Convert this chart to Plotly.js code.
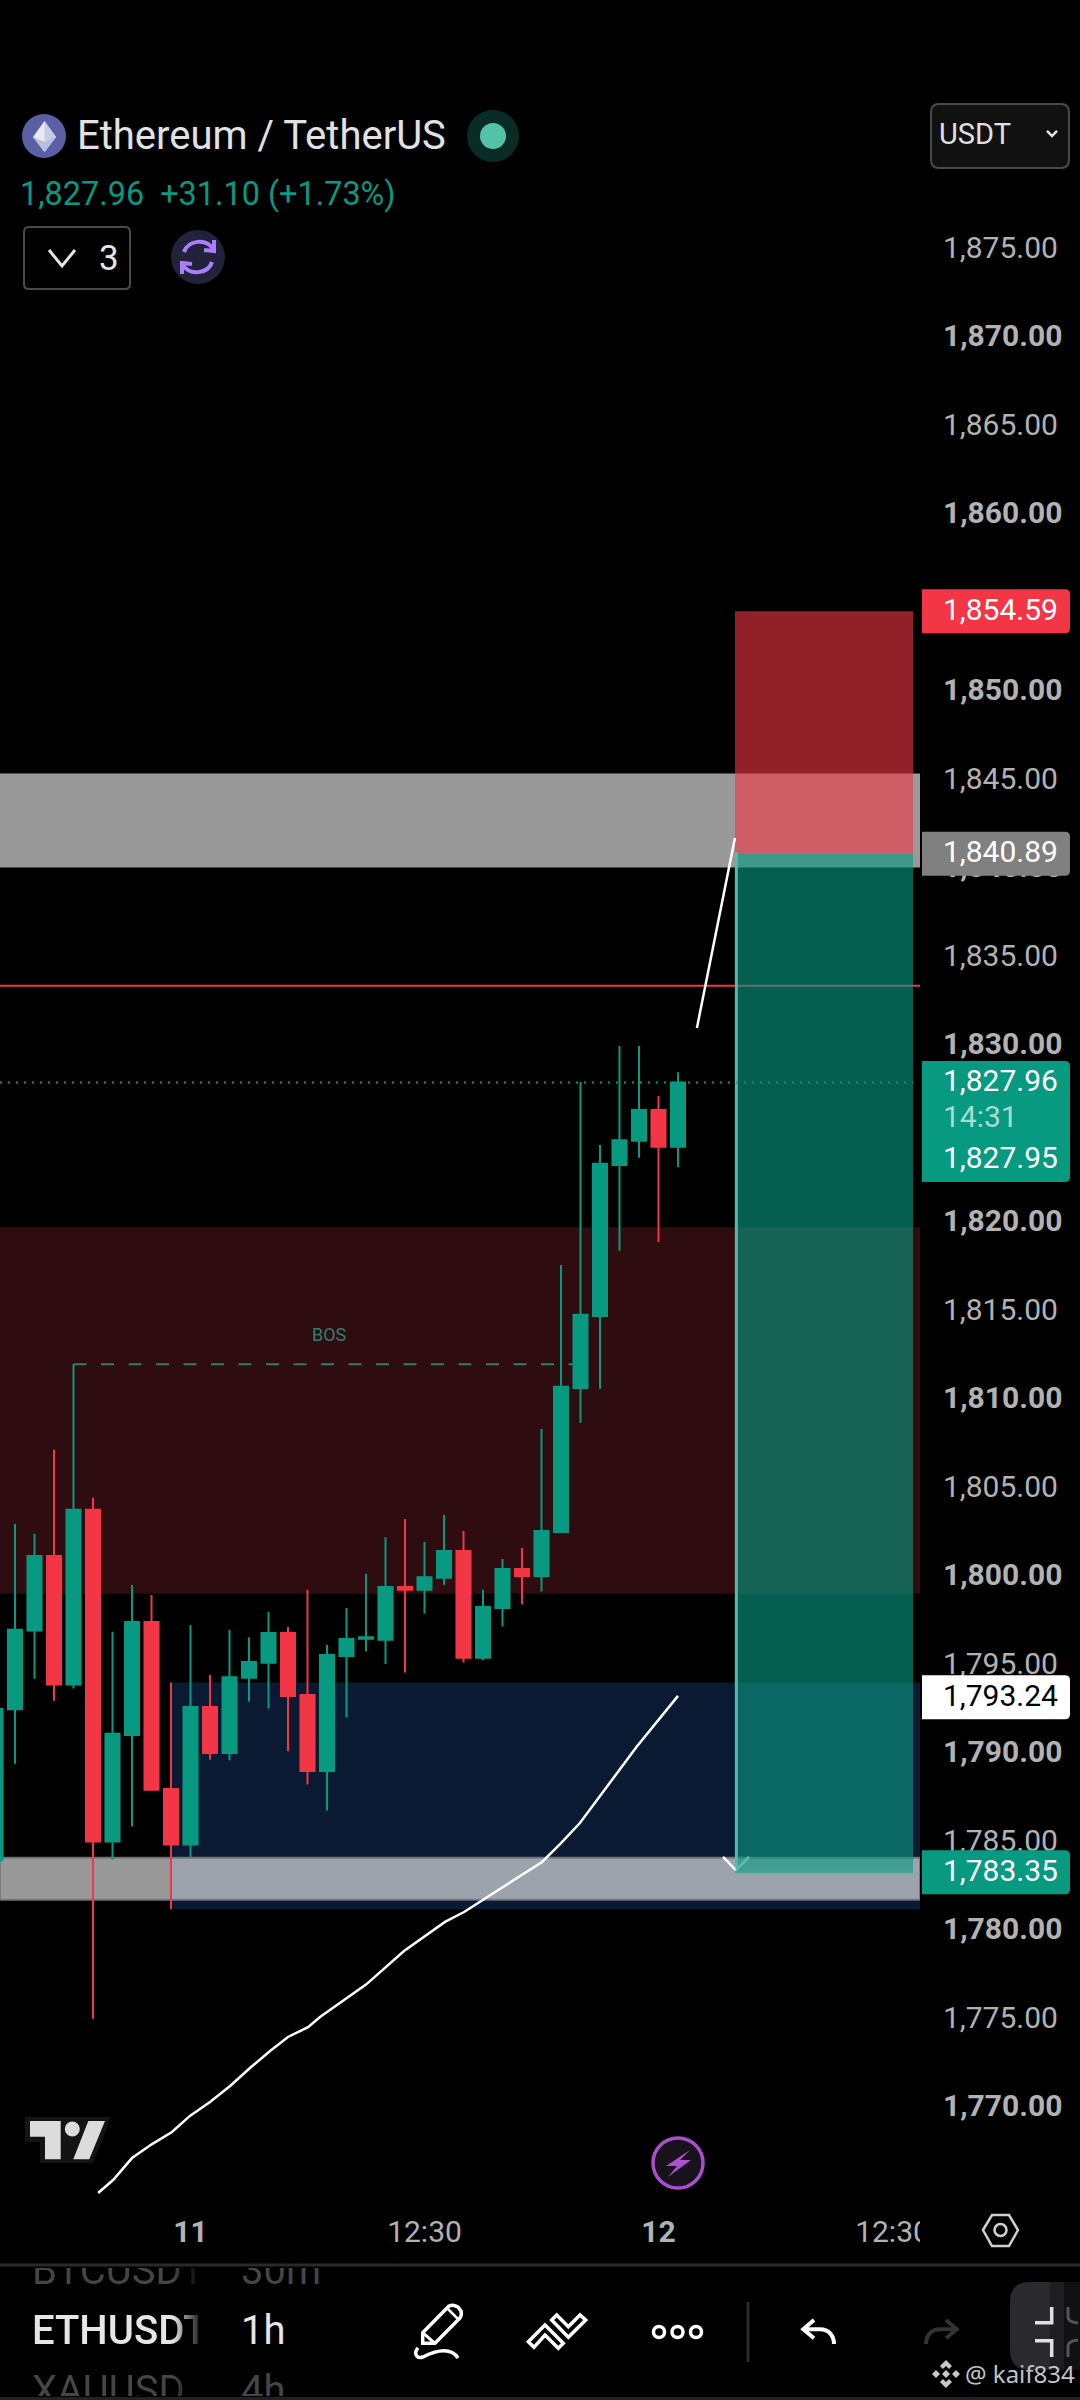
<!DOCTYPE html>
<html><head><meta charset="utf-8">
<script src="https://cdn.plot.ly/plotly-3.0.1.min.js"></script>
<style>
html,body{margin:0;padding:0;background:#000;width:1080px;height:2400px;overflow:hidden}
#chart{position:absolute;left:0;top:0;width:1080px;height:2400px}
#rows{position:absolute;left:0;top:2268px;width:330px;height:128px;overflow:hidden;font-family:Roboto,sans-serif;font-size:40px;line-height:40px}
#rows span{position:absolute;white-space:nowrap}
.sym{left:32px;width:166px;overflow:hidden;-webkit-mask-image:linear-gradient(to right,#000 85%,rgba(0,0,0,.2) 100%);mask-image:linear-gradient(to right,#000 85%,rgba(0,0,0,.2) 100%)}
.tf{left:241px}
.dim{color:#454545}.on{color:#e6e6e6;font-weight:500}
</style></head><body>
<div id="chart"></div>
<div id="rows">
<span class="sym dim" style="top:-17px">BTCUSDT</span><span class="tf dim" style="top:-17px">30m</span>
<span class="sym on" style="top:43px">ETHUSDT</span><span class="tf on" style="top:43px;font-weight:400">1h</span>
<span class="sym dim" style="top:103px">XAUUSD</span><span class="tf dim" style="top:103px">4h</span>
</div>
<script>
const bars   =[-1,0,1,2,3,4,5,6,7,8,9,10,11,12,13,14,15,16,17,18,19,20,21,22,23,24,25,26,27,28,29,30,31,32,33,34];
const opens  =[1784.02,1792.55,1797.00,1801.22,1793.96,1803.83,1785.08,1791.10,1797.49,1788.05,1784.92,1792.69,1790.08,1794.33,1795.18,1796.86,1793.36,1789.07,1795.57,1796.54,1796.49,1799.47,1799.31,1799.98,1801.50,1795.46,1798.27,1800.48,1800.09,1802.57,1810.70,1814.77,1823.30,1824.67,1826.41,1824.33];
const closes =[1792.57,1797.05,1801.22,1793.96,1803.83,1785.08,1791.17,1797.49,1788.01,1784.92,1792.69,1790.08,1794.37,1795.23,1796.86,1793.31,1789.07,1795.62,1796.52,1796.63,1799.47,1799.31,1800.02,1801.50,1795.46,1798.34,1800.48,1800.09,1802.63,1810.77,1814.84,1823.37,1824.71,1826.41,1824.33,1827.96];
const highs  =[1792.57,1803.02,1802.47,1807.22,1812.05,1804.50,1796.93,1799.58,1799.01,1794.07,1797.32,1794.49,1797.05,1796.63,1798.06,1797.21,1799.31,1796.19,1798.27,1800.21,1802.28,1803.30,1802.01,1803.53,1802.63,1799.31,1801.04,1801.66,1808.39,1817.65,1828.00,1824.44,1830.03,1830.03,1827.21,1828.55];
const lows   =[1784.02,1789.48,1794.28,1793.03,1793.73,1775.07,1784.06,1785.93,1788.01,1781.25,1784.16,1789.71,1789.67,1792.99,1792.60,1790.18,1788.31,1786.83,1792.09,1795.82,1795.11,1794.63,1797.97,1799.58,1795.20,1795.32,1797.23,1798.48,1799.21,1802.52,1808.74,1810.66,1818.46,1823.71,1818.95,1823.19];
const curveX =[4.26,5.03,6.0,7.03,8.05,8.97,10.0,11.03,12.05,13.08,14.0,15.03,15.64,18.0,19.95,22.05,23.03,27.03,27.95,28.97,31.88,34.0];
const curveY =[1765.23,1765.96,1767.20,1767.99,1768.67,1769.58,1770.37,1771.27,1772.29,1773.25,1774.04,1774.60,1775.17,1777.0,1778.9,1780.54,1781.1,1783.93,1784.94,1786.13,1790.44,1793.31];
const riseX  =[34.97,36.92];
const riseY  =[1831.05,1841.78];
const tickPrices=[1875,1870,1865,1860,1855,1850,1845,1840,1835,1830,1825,1820,1815,1810,1805,1800,1795,1790,1785,1780,1775,1770];
const timeTicks=[9,21,33,45];
const timeLabels=['<b>11</b>','12:30','<b>12</b>','12:30'];
const stopPrice=1854.59, entryPrice=1840.89, lastPrice=1827.96, bidPrice=1827.95, zonePrice=1793.24, targetPrice=1783.35, linePrice=1833.43;

const GREEN='#089981',RED='#f23645',TICK='#b2b2b2';
const W=1080,H=2400,PLOT_R=920,PLOT_B=2200;
const XMIN=-15/19.5,XMAX=905/19.5;
const YPX=p=>692.5+(1850-p)*17.7;
const YMAX=1850+692.5/17.7,YMIN=1850-(PLOT_B-692.5)/17.7;
const fx=x=>x/W,fy=y=>1-y/H;
const pth=s=>{let i=0;return s.replace(/-?\d+(\.\d+)?/g,m=>(i++%2===0)?fx(+m).toFixed(5):fy(+m).toFixed(5));};
const ln=(c,w)=>({color:c,width:w});
const P=(d,fill,stroke,w,layer)=>({type:'path',xref:'paper',yref:'paper',layer:layer||'above',path:pth(d),fillcolor:fill||'rgba(0,0,0,0)',line:stroke?ln(stroke,w||2):{width:0}});
const C=(cx,cy,r,fill,stroke,w)=>({type:'circle',xref:'paper',yref:'paper',layer:'above',x0:fx(cx-r),x1:fx(cx+r),y0:fy(cy+r),y1:fy(cy-r),fillcolor:fill||'rgba(0,0,0,0)',line:stroke?ln(stroke,w||2):{width:0}});
const Z=(x0,x1,p0,p1,fill,line)=>({type:'rect',xref:'x',yref:'y',layer:'below',x0,x1,y0:p0,y1:p1,fillcolor:fill,line:line||{width:0}});
const label=(y0,y1,fill)=>P(`M 922 ${y0} L 1065 ${y0} Q 1070 ${y0} 1070 ${y0+5} L 1070 ${y1-5} Q 1070 ${y1} 1065 ${y1} L 922 ${y1} Z`,fill);
const T=(text,x,y,size,color,extra)=>Object.assign({text,x:fx(x),y:fy(y),xref:'paper',yref:'paper',xanchor:'left',yanchor:'middle',showarrow:false,borderpad:0,borderwidth:0,font:{family:'Roboto, sans-serif',size,color}},extra||{});

const boxL=(735-15)/19.5,boxR=(913-15)/19.5;
const shapes=[
 Z(8,XMAX,1781.25,1794.07,'#0b1a33'),
 Z(XMIN,XMAX,1799.08,1819.79,'#2e0c0f'),
 Z(XMIN,XMAX,1840.11,1845.43,'rgba(255,255,255,0.6)'),
 Z(XMIN,XMAX,1781.80,1784.16,'rgba(255,255,255,0.6)',ln('rgba(120,120,125,0.9)',2)),
 {type:'line',xref:'x',yref:'y',layer:'below',x0:XMIN,x1:XMAX,y0:linePrice,y1:linePrice,line:ln(RED,2)},
 Z(boxL,boxR,targetPrice,entryPrice,'rgba(8,153,129,0.62)'),
 Z(boxL,boxR,entryPrice,stopPrice,'rgba(242,54,69,0.6)'),
 {type:'line',xref:'x',yref:'y',layer:'below',x0:boxL+0.07,x1:boxL+0.07,y0:targetPrice,y1:entryPrice+0.1,line:ln('#5bb8a6',3)},
 {type:'line',xref:'x',yref:'y',layer:'below',x0:boxL,x1:boxR,y0:targetPrice,y1:targetPrice,line:ln('#3fa893',2)},
 {type:'line',xref:'x',yref:'y',layer:'below',x0:3,x1:28.6,y0:1812.05,y1:1812.05,line:{color:'#2e7d69',width:2,dash:'13px,14.5px'}},
 {type:'line',xref:'x',yref:'y',layer:'above',x0:XMIN,x1:boxR,y0:lastPrice,y1:lastPrice,line:{color:GREEN,width:2,dash:'2px,6px'}},
 // clip of last time label
 P('M 920 2205 L 985 2205 L 985 2258 L 920 2258 Z','#000'),
 // price labels
 label(YPX(stopPrice)-22,YPX(stopPrice)+22,RED),
 label(YPX(entryPrice)-22,YPX(entryPrice)+22,'#808080'),
 label(1061,1182,GREEN),
 label(YPX(zonePrice)-22,YPX(zonePrice)+22,'#ffffff'),
 label(YPX(targetPrice)-22,YPX(targetPrice)+22,GREEN),
 // header: coin icon
 C(44,136,22,'#5a5fa6'),
 P('M 44.5 121 L 56 137 L 44.5 152 L 33 137 Z','#e9e9f4'),
 P('M 44.5 121 L 44.5 152 L 56 137 Z','#c9cce6'),
 P('M 33 137 L 44.5 142 L 56 137 L 44.5 152 Z','#b9bddf'),
 C(493,136,26,'#0a2c27'),C(493,136,13,'#52c3a8'),
 // symbol count button
 P('M 29 227 L 125 227 Q 130 227 130 232 L 130 284 Q 130 289 125 289 L 29 289 Q 24 289 24 284 L 24 232 Q 24 227 29 227 Z',null,'#4a4a4a',2),
 P('M 49 250 L 62 266 L 75 250',null,'#e6e6e6',3),
 C(198,257,27,'#22223a'),
 P('M 184 252 C 188 240 206 238 213 249',null,'#a97ffc',4),
 P('M 214 240 L 214 251 L 204 250',null,'#a97ffc',4),
 P('M 212 262 C 208 274 190 276 183 265',null,'#a97ffc',4),
 P('M 182 274 L 182 263 L 192 264',null,'#a97ffc',4),
 // currency button
 P('M 939 104 L 1061 104 Q 1069 104 1069 112 L 1069 160 Q 1069 168 1061 168 L 939 168 Q 931 168 931 160 L 931 112 Q 931 104 939 104 Z','#111111','#4a4a4a',2),
 P('M 1047 131 L 1052 136 L 1057 131',null,'#e6e6e6',2.5),
 // TV logo
 P('M 25 2117 L 111 2117 L 93 2163 L 40 2163 L 40 2142 L 25 2142 Z','#141414'),
 P('M 30 2121 L 60.7 2121 L 60.7 2159.3 L 45 2159.3 L 45 2136.7 L 30 2136.7 Z','#dcdcdc'),
 C(72.3,2129,7.5,'#dcdcdc'),
 P('M 88.3 2121 L 105 2121 L 89.3 2159.3 L 73.3 2159.3 Z','#dcdcdc'),
 // bolt
 C(678,2163,25,'#17121c','#a850cc',3.5),
 P('M 690 2150 L 666 2166 L 677 2166 L 668 2177 L 691 2160 L 680 2160 Z','#ab52d0'),
 // settings hex
 P('M 983 2230 L 992 2215 L 1009 2215 L 1018 2230 L 1009 2246 L 992 2246 Z',null,'#cfcfcf',2.5),
 C(1000.5,2230,6,null,'#cfcfcf',2.5),
 // separators
 P('M 0 2265 L 1080 2265',null,'#2a2a2c',3),
 P('M 0 2398.5 L 1080 2398.5',null,'#222224',3),
 // pencil
 P('M 422.7 2332.7 L 449 2306 Q 453 2304 458 2307 L 461 2311 Q 462 2315 460 2318 L 435 2343.3 L 422.7 2343.3 Z',null,'#fff',3.5),
 P('M 422.7 2332.7 L 435 2343.3',null,'#fff',3),
 P('M 447 2308 L 459 2320',null,'#fff',2.5),
 P('M 418 2348 C 413 2354 417 2359 423 2357 C 435 2351 450 2346 458 2358',null,'#fff',3.5),
 // lines icon
 P('M 528.3 2341.7 L 545 2325 L 563.3 2343.3 L 558.3 2348.3 L 545 2335 L 534 2347.3 Z',null,'#fff',3.5),
 P('M 551.7 2320 L 556.7 2315 L 568.3 2326.7 L 580 2315 L 585.7 2320 L 568.3 2337.3 Z',null,'#fff',3.5),
 // dots
 C(659,2332,5.5,null,'#fff',3.5),C(677.5,2332,5.5,null,'#fff',3.5),C(696,2332,5.5,null,'#fff',3.5),
 P('M 748 2302 L 748 2362',null,'#2a2a2c',3),
 // undo / redo
 P('M 814 2320 L 803.3 2329.3 L 814 2338.3',null,'#fff',4),
 P('M 803.3 2329.3 L 820 2329.3 C 829 2329.3 834 2336 834 2344',null,'#fff',4),
 P('M 946 2320 L 956.7 2329.3 L 946 2338.3',null,'#333336',4),
 P('M 956.7 2329.3 L 940 2329.3 C 931 2329.3 926 2336 926 2344',null,'#333336',4),
 // fullscreen button
 P('M 1030 2282 L 1050 2282 L 1050 2370 L 1030 2370 Q 1010 2370 1010 2350 L 1010 2302 Q 1010 2282 1030 2282 Z','#2a2a2e'),
 P('M 1050 2282 L 1064 2282 L 1064 2370 L 1050 2370 Z','#1e1e20'),
 P('M 1064 2282 L 1080 2282 L 1080 2370 L 1064 2370 Z','#111112'),
 P('M 1051.7 2307 L 1051.7 2322.7 L 1035 2322.7',null,'#e0e0e0',3.5),
 P('M 1035 2340.7 L 1051.7 2340.7 L 1051.7 2357',null,'#e0e0e0',3.5),
 P('M 1068 2307 L 1068 2317 Q 1068 2322 1078 2323',null,'#555',3),
 P('M 1078 2340 Q 1068 2341 1068 2346 L 1068 2357',null,'#555',3),
 // watermark diamond
 P('M 946 2360 L 952 2366 L 949 2369 L 946 2366 L 943 2369 L 940 2366 Z','#c8c8c8'),
 P('M 946 2388 L 952 2382 L 949 2379 L 946 2382 L 943 2379 L 940 2382 Z','#c8c8c8'),
 P('M 946 2370 L 950 2374 L 946 2378 L 942 2374 Z','#c8c8c8'),
 P('M 936 2370 L 940 2374 L 936 2378 L 932 2374 Z','#c8c8c8'),
 P('M 956 2370 L 960 2374 L 956 2378 L 952 2374 Z','#c8c8c8')
];
const annotations=[
 T('Ethereum / TetherUS',77,135,40,'#e2e2e2'),
 T('1,827.96&nbsp;&nbsp;+31.10 (+1.73%)',20,194,32.4,GREEN),
 T('3',99,258,35,'#e6e6e6'),
 T('USDT',939,134,29,'#e0e0e0'),
 T('BOS',312,1334,18,'#2f8070'),
 T('1,854.59',943,YPX(stopPrice)-2,30,'#fff'),
 T('1,840.89',943,YPX(entryPrice)-2,30,'#fff'),
 T('1,827.96',943,1080,30,'#fff'),
 T('14:31',943,1116,30,'#a8dcd0'),
 T('1,827.95',943,1157,30,'#fff'),
 T('1,793.24',943,YPX(zonePrice)-2,30,'#000'),
 T('1,783.35',943,YPX(targetPrice)-2,30,'#fff'),
 T('@ kaif834',965,2373,24,'#c4c4c4',{font:{family:'Noto Sans, sans-serif',size:24,color:'#c4c4c4'}})
];
const traces=[
 {type:'candlestick',x:bars,open:opens,high:highs,low:lows,close:closes,whiskerwidth:0,hoverinfo:'skip',
  increasing:{line:{color:GREEN,width:2},fillcolor:GREEN},decreasing:{line:{color:RED,width:2},fillcolor:RED},showlegend:false},
 {type:'scatter',mode:'lines',x:curveX,y:curveY,line:{color:'#fff',width:2.5},hoverinfo:'skip',showlegend:false},
 {type:'scatter',mode:'lines',x:riseX,y:riseY,line:{color:'#fff',width:2.5},hoverinfo:'skip',showlegend:false},
 {type:'scatter',mode:'lines',x:[36.31,36.97],y:[1784.21,1783.47],line:{color:'#fff',width:2.5},hoverinfo:'skip',showlegend:false},
 {type:'scatter',mode:'lines',x:[36.97,37.64],y:[1783.47,1784.21],line:{color:'#5fbfac',width:2.5},hoverinfo:'skip',showlegend:false}
];
const layout={
 width:W,height:H,paper_bgcolor:'#000',plot_bgcolor:'#000',showlegend:false,
 margin:{l:0,r:0,t:0,b:0,pad:0},boxmode:'overlay',boxgap:0.28,boxgroupgap:0,
 xaxis:{domain:[0,PLOT_R/W],range:[XMIN,XMAX],showgrid:false,zeroline:false,showline:false,ticks:'',
  tickmode:'array',tickvals:timeTicks,ticktext:timeLabels,tickfont:{family:'Roboto, sans-serif',size:30,color:TICK},
  ticklabelstandoff:11,rangeslider:{visible:false},fixedrange:true,automargin:false},
 yaxis:{domain:[1-PLOT_B/H,1],range:[YMIN,YMAX],side:'right',showgrid:false,zeroline:false,showline:false,ticks:'',
  tickmode:'array',tickvals:tickPrices,ticktext:tickPrices.map(p=>{const s=p.toLocaleString('en-US',{minimumFractionDigits:2});return p%10===0?'<b>'+s+'</b>':s;}),
  tickfont:{family:'Roboto, sans-serif',size:30,color:TICK},ticklabelstandoff:22,ticklabelshift:-3,fixedrange:true,automargin:false},
 shapes,annotations
};
Plotly.newPlot('chart',traces,layout,{staticPlot:true,displayModeBar:false});
</script>
</body></html>
